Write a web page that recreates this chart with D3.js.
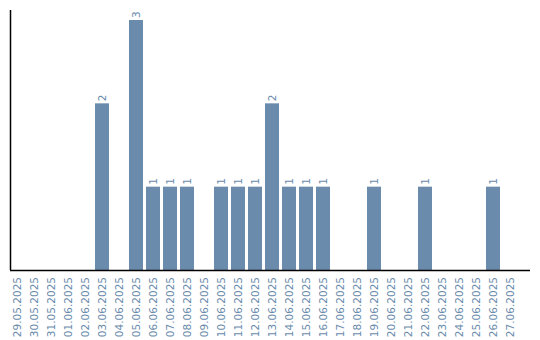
<!DOCTYPE html>
<html>
<head>
<meta charset="utf-8">
<script src="https://cdn.jsdelivr.net/npm/d3@7"></script>
<style>
  body { margin: 0; background: #fff; }
  text { font-family: "DejaVu Sans", sans-serif; font-size: 10.5px; fill: #6a8bab; }
</style>
</head>
<body>
<div id="chart"></div>
<script>
// dates on the x axis
var dates = ["29.05.2025", "30.05.2025", "31.05.2025", "01.06.2025", "02.06.2025",
	"03.06.2025", "04.06.2025", "05.06.2025", "06.06.2025", "07.06.2025",
	"08.06.2025", "09.06.2025", "10.06.2025", "11.06.2025", "12.06.2025",
	"13.06.2025", "14.06.2025", "15.06.2025", "16.06.2025", "17.06.2025",
	"18.06.2025", "19.06.2025", "20.06.2025", "21.06.2025", "22.06.2025",
	"23.06.2025", "24.06.2025", "25.06.2025", "26.06.2025", "27.06.2025"];

// count per day
var counts = [0, 0, 0, 0, 0, 2, 0, 3, 1, 1, 1, 0, 1, 1, 1, 2, 1, 1, 1, 0, 0, 1, 0, 0, 1, 0, 0, 0, 1, 0];

var yMax = 3;

var width = 540, height = 340;
var color = "#6a8bab";

var svg = d3.select("#chart").append("svg")
	.attr("width", width)
	.attr("height", height);

var data = dates.map(function(d, i) { return { date: d, value: counts[i] }; });

// bands: step 17, bar 14
var x = d3.scaleBand()
	.domain(dates)
	.range([10, 517])
	.paddingInner(3 / 17)
	.paddingOuter(0);

var y = d3.scaleLinear()
	.domain([0, yMax])
	.range([270, 20]);

// bars
svg.selectAll("rect.bar")
	.data(data.filter(function(d) { return d.value > 0; }))
	.enter()
	.append("rect")
	.attr("class", "bar")
	.attr("x", function(d) { return x(d.date); })
	.attr("y", function(d) { return y(d.value); })
	.attr("width", x.bandwidth())
	.attr("height", function(d) { return y(0) - y(d.value); })
	.attr("fill", color);

// value labels
svg.selectAll("text.value")
	.data(data.filter(function(d) { return d.value > 0; }))
	.enter()
	.append("text")
	.attr("class", "value")
	.attr("transform", function(d) {
		return "translate(" + (x(d.date) + x.bandwidth() / 2 + 4) + "," + (y(d.value) - 2) + ") rotate(-90)";
	})
	.attr("text-anchor", "start")
	.text(function(d) { return d.value; });

// x axis
var xAxis = d3.axisBottom(x).tickSize(0).tickPadding(0);
var gx = svg.append("g")
	.attr("transform", "translate(0,270)")
	.call(xAxis);
gx.select(".domain").remove();
gx.selectAll("text")
	.attr("fill", color)
	.attr("font-size", 10.5)
	.attr("font-family", "DejaVu Sans, sans-serif")
	.attr("text-anchor", "end")
	.attr("dy", null)
	.attr("y", 0)
	.attr("transform", "translate(4,7) rotate(-90)");

// axis lines
svg.append("line")
	.attr("x1", 10).attr("x2", 530)
	.attr("y1", 270.5).attr("y2", 270.5)
	.attr("stroke", "#000").attr("stroke-width", 1.5);

svg.append("line")
	.attr("x1", 10.5).attr("x2", 10.5)
	.attr("y1", 10).attr("y2", 270)
	.attr("stroke", "#000").attr("stroke-width", 1.5);
</script>
</body>
</html>
